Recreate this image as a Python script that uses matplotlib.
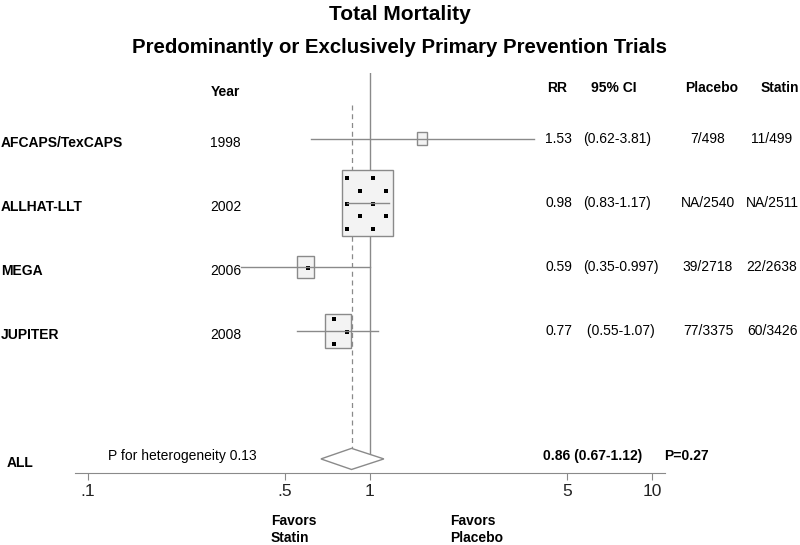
import matplotlib
matplotlib.use("Agg")
import matplotlib.pyplot as plt
import numpy as np
from matplotlib.patches import Rectangle, Polygon
from matplotlib.transforms import blended_transform_factory, IdentityTransform

plt.rcParams["font.family"] = ["Liberation Sans", "DejaVu Sans"]

# study data
studies = ["AFCAPS/TexCAPS", "ALLHAT-LLT", "MEGA", "JUPITER"]
years = ["1998", "2002", "2006", "2008"]
rr = [1.53, 0.98, 0.59, 0.77]
ci_low = [0.62, 0.83, 0.35, 0.55]
ci_high = [3.81, 1.17, 0.997, 1.07]
weights = [2.8, 69.8, 7.7, 19.7]  # percent, sets box size
rr_text = ["1.53", "0.98", "0.59", "0.77"]
ci_text = ["(0.62-3.81)", "(0.83-1.17)", "(0.35-0.997)", " (0.55-1.07)"]
placebo = ["7/498", "NA/2540", "39/2718", "77/3375"]
statin = ["11/499", "NA/2511", "22/2638", "60/3426"]

pooled_rr = 0.86
pooled_low = 0.67
pooled_high = 1.12
pooled_text = "0.86 (0.67-1.12)"
pooled_p = "P=0.27"
het_text = "P for heterogeneity 0.13"

xticks = [0.1, 0.5, 1, 5, 10]
xtick_labels = [".1", ".5", "1", "5", "10"]

W, H = 800, 545
fig = plt.figure(figsize=(W / 100, H / 100), dpi=100)
# plot area: 75..665 px wide, 73..473 px tall
ax = fig.add_axes([75 / W, (H - 473) / H, 590 / W, 400 / H])
ax.set_xscale("log")
ax.set_xlim(10 ** -1.046, 10 ** 1.046)
ax.set_ylim(5.22, -1.03)  # rows, 64 px each

grey = "#8a8a8a"
for s in ["left", "top", "right"]:
    ax.spines[s].set_visible(False)
ax.spines["bottom"].set_color(grey)
ax.set_yticks([])
ax.set_xticks(xticks)
ax.set_xticklabels(xtick_labels)
ax.minorticks_off()
ax.tick_params(axis="x", colors=grey, labelcolor="#222222", length=5,
               labelsize=12.5, pad=3)

rows = np.arange(len(studies))
all_row = 5

# reference lines
ax.plot([1, 1], [-1.03, all_row + 0.05], color=grey, lw=1, zorder=1)
ax.plot([pooled_rr, pooled_rr], [-0.53, all_row - 0.165], color=grey, lw=0.9,
        ls=(0, (4, 3)), zorder=1)

# dot lattice (fixed in figure pixels) used as box texture
lat = []
for k in range(-20, 30):
    yimg = 178 + 12.8 * k
    off = 13 if k % 2 else 0
    for m in range(-20, 30):
        lat.append((347 + 26 * m + off, H - yimg))
lat = np.array(lat)

px_per_dec = 590 / 2.092
for i in rows:
    half_w = 3.0 * np.sqrt(weights[i])  # px
    half_h = 1.3 * half_w
    x0 = rr[i] / 10 ** (half_w / px_per_dec)
    x1 = rr[i] * 10 ** (half_w / px_per_dec)
    box = Rectangle((x0, i - half_h / 64), x1 - x0, 2 * half_h / 64,
                    facecolor="#f3f3f3", edgecolor=grey, lw=1, zorder=2)
    ax.add_patch(box)
    dots = ax.scatter(lat[:, 0], lat[:, 1], s=5, marker="s", color="black",
                      linewidths=0, transform=IdentityTransform(), zorder=3)
    dots.set_clip_path(box)
    ax.plot([ci_low[i], ci_high[i]], [i, i], color=grey, lw=1, zorder=4)

diamond = Polygon([(pooled_low, all_row), (pooled_rr, all_row - 0.165),
                   (pooled_high, all_row), (pooled_rr, all_row + 0.165)],
                  closed=True, facecolor="white", edgecolor=grey, lw=1, zorder=3)
ax.add_patch(diamond)

# text columns: x in figure px, y in row units
tr = blended_transform_factory(fig.transFigure, ax.transData)


def put(xpx, y, s, **kw):
    kw.setdefault("fontsize", 10)
    kw.setdefault("va", "center")
    ax.text(xpx / W, y, s, transform=tr, **kw)


put(211, -0.73, "Year", fontweight="bold")
put(557, -0.80, "RR", fontweight="bold", ha="center")
put(614, -0.80, "95% CI", fontweight="bold", ha="center")
put(712, -0.80, "Placebo", fontweight="bold", ha="center")
put(780, -0.80, "Statin", fontweight="bold", ha="center")

for i in rows:
    put(1, i + 0.07, studies[i], fontweight="bold")
    put(210, i + 0.07, years[i])
    put(545, i + 0.0, rr_text[i])
    put(583, i + 0.0, ci_text[i])
    put(708, i + 0.0, placebo[i], ha="center")
    put(772, i + 0.0, statin[i], ha="center")

put(7, all_row + 0.06, "ALL", fontweight="bold")
put(108, all_row - 0.05, het_text)
put(543, all_row - 0.05, pooled_text, fontweight="bold")
put(664, all_row - 0.05, pooled_p, fontweight="bold")

put(271, 5.97, "Favors", fontweight="bold")
put(271, 6.23, "Statin", fontweight="bold")
put(450, 5.97, "Favors", fontweight="bold")
put(450, 6.23, "Placebo", fontweight="bold")

fig.text(0.5, 1 - 14 / H, "Total Mortality", ha="center", va="center",
         fontsize=15, fontweight="bold")
fig.text(0.5, 1 - 47 / H, "Predominantly or Exclusively Primary Prevention Trials",
         ha="center", va="center", fontsize=14.7, fontweight="bold")

fig.savefig("out.png", dpi=100)
